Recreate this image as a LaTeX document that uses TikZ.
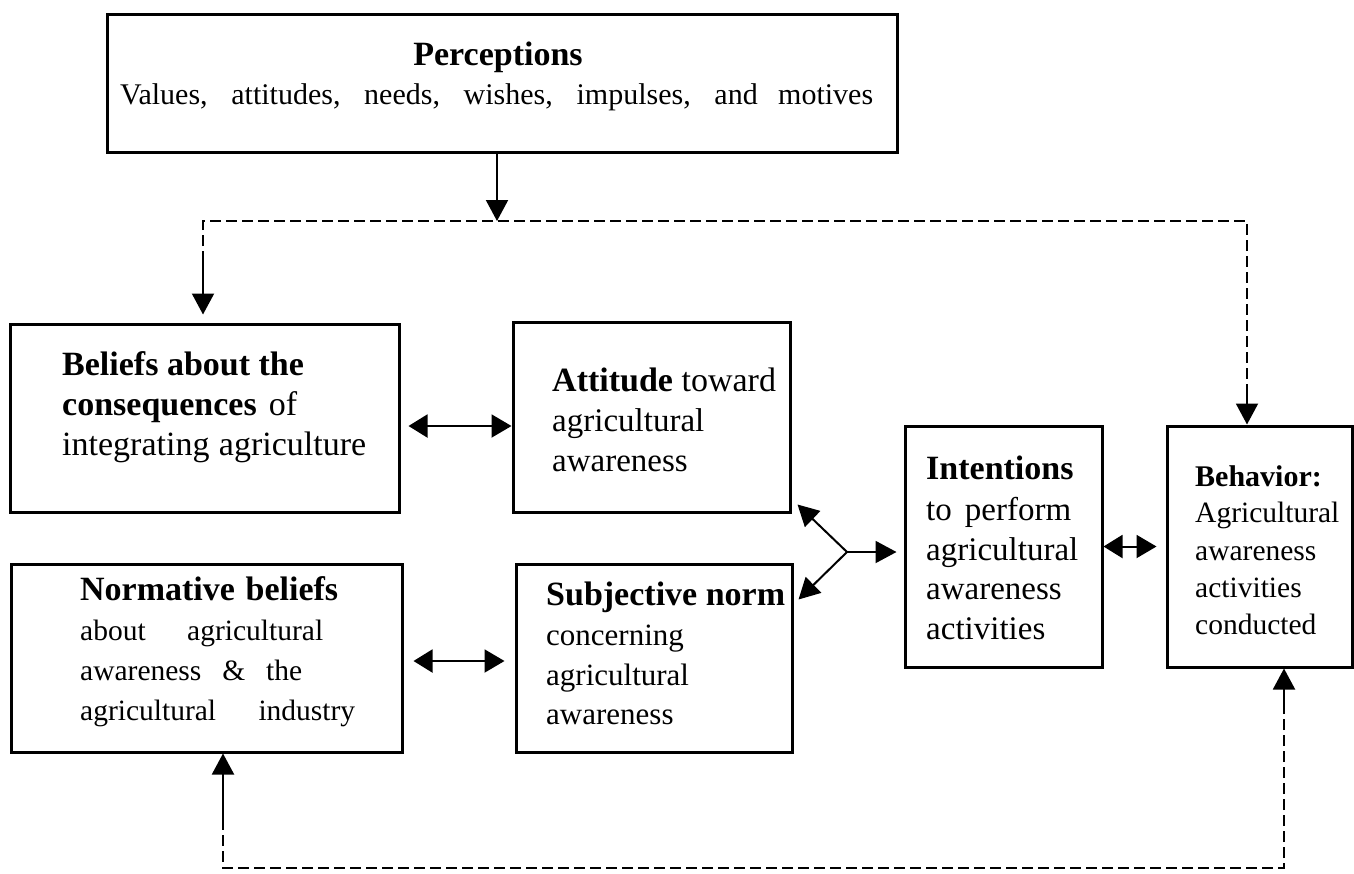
\documentclass[tikz,border=0pt]{standalone}
\usepackage{fontspec}
\setmainfont{Liberation Serif}
\usetikzlibrary{arrows.meta}
\newcommand{\fsz}[1]{\fontsize{#1}{#1}\selectfont}
\tikzset{
  box/.style={draw, line width=3pt, inner sep=0pt},
  conn/.style={line width=2pt},
  arr/.style={conn, -{Triangle[length=21pt,width=22pt]}},
  dbl/.style={conn, {Triangle[length=19pt,width=23pt]}-{Triangle[length=20pt,width=23pt]}},
  dsh/.style={conn, dash pattern=on 11pt off 5pt},
  tx/.style={anchor=mid west, inner sep=0pt},
  hd/.style={tx, font=\fsz{34}\bfseries},
}
\begin{document}
\begin{tikzpicture}[x=1pt,y=-1pt]
\fill[white] (0,0) rectangle (1354,873);
\useasboundingbox (0,0) rectangle (1354,873);

% boxes
\node[box, minimum width=790pt, minimum height=138pt] (perc) at (502,83) {};
\node[box, minimum width=389pt, minimum height=188pt] (bel) at (204.5,418) {};
\node[box, minimum width=277pt, minimum height=190pt] (att) at (651.5,417) {};
\node[box, minimum width=391pt, minimum height=188pt] (nor) at (206.5,658) {};
\node[box, minimum width=276pt, minimum height=188pt] (sub) at (654,658) {};
\node[box, minimum width=197pt, minimum height=241pt] (int) at (1003.5,546.5) {};
\node[box, minimum width=185pt, minimum height=241pt] (beh) at (1259.5,546.5) {};

% texts
\node[hd, anchor=mid] (tp1) at (498,63) {Perceptions};
\node[tx, font=\fsz{30}] (tp2) at (120,102) {\makebox[753pt][s]{Values, attitudes, needs, wishes, impulses, and motives}};

\node[hd] (tb1) at (62,373) {Beliefs about the};
\node[tx, font=\fsz{34}] (tb2) at (62,413) {\makebox[235pt][s]{\textbf{consequences} of}};
\node[tx, font=\fsz{34}] (tb3) at (62,453) {\makebox[304pt][s]{integrating agriculture}};

\node[tx, font=\fsz{34}] (ta1) at (552,389) {\textbf{Attitude} toward};
\node[tx, font=\fsz{33}] (ta2) at (552,429) {agricultural};
\node[tx, font=\fsz{33}] (ta3) at (552,469) {awareness};

\node[hd] (tn1) at (80,598) {\makebox[258pt][s]{Normative beliefs}};
\node[tx, font=\fsz{29.5}] (tn2) at (80,638) {\makebox[243pt][s]{about agricultural}};
\node[tx, font=\fsz{29.5}] (tn3) at (80,678) {\makebox[222pt][s]{awareness \& the}};
\node[tx, font=\fsz{29.5}] (tn4) at (80,718) {\makebox[275pt][s]{agricultural industry}};

\node[hd] (ts1) at (546,603) {Subjective norm};
\node[tx, font=\fsz{31}] (ts2) at (546,643) {concerning};
\node[tx, font=\fsz{31}] (ts3) at (546,683) {agricultural};
\node[tx, font=\fsz{31}] (ts4) at (546,722) {awareness};

\node[hd] (ti1) at (926,477) {Intentions};
\node[tx, font=\fsz{33}] (ti2) at (926,518) {\makebox[145pt][s]{to perform}};
\node[tx, font=\fsz{33}] (ti3) at (926,558) {agricultural};
\node[tx, font=\fsz{33}] (ti4) at (926,597) {awareness};
\node[tx, font=\fsz{33}] (ti5) at (926,637) {activities};

\node[tx, font=\fsz{30}\bfseries] (th1) at (1195,484) {Behavior:};
\node[tx, font=\fsz{29.5}] (th2) at (1195,520) {Agricultural};
\node[tx, font=\fsz{29.5}] (th3) at (1195,558) {awareness};
\node[tx, font=\fsz{29.5}] (th4) at (1195,595) {activities};
\node[tx, font=\fsz{29.5}] (th5) at (1195,632) {conducted};

% coordinates of connector bends
\coordinate (pj) at (497,221);
\coordinate (tl) at (203,221);
\coordinate (tr) at (1247,221);
\coordinate (tlm) at (203,262);
\coordinate (trm) at (1247,395);
\coordinate (bl) at (223,868);
\coordinate (br) at (1284,868);
\coordinate (blm) at (223,819);
\coordinate (brm) at (1284,713);
\coordinate (yj) at (847,552);

% perceptions feedback
\draw[arr] (perc.south -| pj) -- (pj);
\draw[dsh] (tlm) -- (tl) -- (tr) -- (trm);
\draw[arr] (tlm) -- ([yshift=8pt]bel.north -| tl);
\draw[arr] (trm) -- (beh.north -| tr);

% bottom loop
\draw[dsh] (blm) -- (bl) -- (br) -- (brm);
\draw[arr] (blm) -- (nor.south -| bl);
\draw[arr] (brm) -- (beh.south -| br);

% double arrows
\draw[dbl] ([xshift=8pt,yshift=-8pt]bel.east) -- ([yshift=-9pt]att.west);
\draw[dbl] ([xshift=10pt,yshift=-3pt]nor.east) -- ([xshift=-10pt,yshift=-3pt]sub.west);
\draw[dbl] (int.east) -- ([xshift=-9pt]beh.west);

% fork to intentions
\draw[arr] (yj) -- ([xshift=-7pt,yshift=-5.5pt]int.west);
\draw[arr] (yj) -- ([shift={(6pt,9pt)}]att.south east);
\draw[arr] (yj) -- ([shift={(5pt,-37pt)}]sub.north east);
\end{tikzpicture}
\end{document}
